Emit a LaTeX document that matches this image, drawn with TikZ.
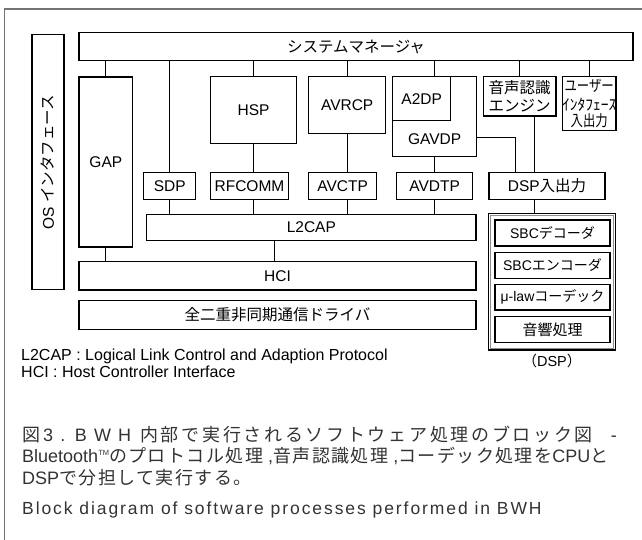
\documentclass[tikz,border=0pt]{standalone}
\usepackage{fontspec}
\setmainfont{Liberation Sans}
\newfontfamily\jp{Noto Sans CJK JP}
\newfontfamily\jpcap[LetterSpace=8]{Noto Sans CJK JP}
\newfontfamily\jpcapa[LetterSpace=15]{Noto Sans CJK JP}
\newfontfamily\capw[LetterSpace=12]{Liberation Sans}
\newfontfamily\capls[LetterSpace=11]{Liberation Sans}
\newcommand\mybox[7][]{\node[box,#1,minimum width={(#5)-(#3)},minimum height={(#6)-(#4)}] (#2) at ({((#3)+(#5))/2},{((#4)+(#6))/2}) {#7};}
\tikzset{
  box/.style={draw, line width=1.1pt, inner sep=0pt, outer sep=0pt, align=center, font=\fontsize{15.5}{19}\selectfont},
  conn/.style={line width=1pt},
  lbl/.style={inner sep=0pt, font=\fontsize{15.5}{19}\selectfont},
  small/.style={font=\fontsize{14}{16}\selectfont},
  captext/.style={anchor=west, inner sep=0pt, text=black!80, font=\fontsize{18}{20}\selectfont},
  legtext/.style={anchor=west, inner sep=0pt, font=\fontsize{16}{18}\selectfont}
}
\begin{document}
\begin{tikzpicture}[x=1pt,y=-1pt]
\useasboundingbox (0,0) rectangle (642,540);
\draw[black!55, line width=1.6pt] (4.5,540) -- (4.5,9) -- (642,9);
% boxes
\mybox{sys}{79}{32.3}{633}{60.7}{\jp システムマネージャ}
\mybox{os}{32}{34.7}{64}{289.3}{}
\node[lbl, rotate=90] (oslbl) at (os.center) {OS {\jp インタフェース}};
\mybox{gap}{79}{77}{132.7}{247}{GAP}
\mybox{sdp}{143.7}{172.7}{195.7}{199.5}{SDP}
\mybox{hsp}{210.7}{76.7}{296.3}{143.7}{HSP}
\mybox{rfcomm}{210.5}{172.7}{288.5}{199.5}{RFCOMM}
\mybox{avrcp}{308.7}{76.7}{385.7}{133.7}{AVRCP}
\mybox{avctp}{308.7}{172.7}{376.5}{199.5}{AVCTP}
\mybox{avbox}{392.7}{76.7}{476.7}{156.7}{}
\mybox{a2dp}{392.7}{76.7}{450.7}{120.7}{A2DP}
\node[lbl] (gavdp) at (434.7,139.5) {GAVDP};
\mybox{avdtp}{396.7}{172.7}{472.7}{199.5}{AVDTP}
\mybox{voice}{483.3}{76.7}{556}{116}{\jp 音声認識\\[-1pt]\jp エンジン}
\mybox{user}{562.3}{76.7}{616}{130.7}{}
\node[lbl] (u1) at (589.2,86) {\scalebox{0.8}[1]{\jp ユーザー}};
\node[lbl] (u2) at (589.2,104.5) {\jp ｲﾝﾀﾌｪｰｽ};
\node[lbl] (u3) at (589.2,121) {\scalebox{0.8}[1]{\jp 入出力}};
\mybox{dspio}{489}{172.7}{605}{199.5}{DSP{\jp 入出力}}
\mybox{l2cap}{146.7}{214.3}{476}{240.7}{L2CAP}
\mybox{hci}{79}{261.7}{476}{290}{HCI}
\mybox{drv}{79}{300.7}{476}{329.3}{\jp 全二重非同期通信ドライバ}
\mybox{dspbox}{488.3}{213.3}{615.7}{350}{}
\draw[black!45, line width=0.6pt] ([shift={(2.2,-2.2)}]dspbox.south west) rectangle ([shift={(-2.2,2.2)}]dspbox.north east);
\mybox[small]{sbcdec}{495}{220}{610}{246}{SBC{\jp デコーダ}}
\mybox[small]{sbcenc}{495}{252.3}{610}{278.3}{SBC{\jp エンコーダ}}
\mybox[small]{mulaw}{495}{284.3}{610}{310}{μ-law{\jp コーデック}}
\mybox[font=\fontsize{15}{17}\selectfont]{acou}{495}{316.7}{610}{342.7}{\jp 音響処理}
% connectors
\coordinate (vx) at (534,116);
\coordinate (gturn) at (515.3,137.3);
\coordinate (lx) at (274,240.7);
\draw[conn] (sys.south -| gap.north) -- (gap.north);
\draw[conn] (sys.south -| sdp.north) -- (sdp.north);
\draw[conn] (sys.south -| hsp.north) -- (hsp.north);
\draw[conn] (sys.south -| avrcp.north) -- (avrcp.north);
\draw[conn] (sys.south -| avbox.north) -- (avbox.north);
\draw[conn] (sys.south -| voice.north) -- (voice.north);
\draw[conn] (sys.south -| user.north) -- (user.north);
\draw[conn] (hsp.south) -- (hsp.south |- rfcomm.north);
\draw[conn] (avrcp.south) -- (avrcp.south |- avctp.north);
\draw[conn] (avbox.south) -- (avbox.south |- avdtp.north);
\draw[conn] (vx) -- (vx |- dspio.north);
\draw[conn] (gturn -| avbox.east) -- (gturn) -- (gturn |- dspio.north);
\draw[conn] (vx |- dspio.south) -- (vx |- dspbox.north);
\draw[conn] (sdp.south) -- (sdp.south |- l2cap.north);
\draw[conn] (hsp.south |- rfcomm.south) -- (hsp.south |- l2cap.north);
\draw[conn] (avrcp.south |- avctp.south) -- (avrcp.south |- l2cap.north);
\draw[conn] (avbox.south |- avdtp.south) -- (avbox.south |- l2cap.north);
\draw[conn] (lx) -- (lx |- hci.north);
\draw[conn] (gap.south) -- (gap.south |- hci.north);
% legend
\node[legtext] (leg1) at (21,356) {L2CAP : Logical Link Control and Adaption Protocol};
\node[legtext] (leg2) at (21,372) {HCI : Host Controller Interface};
\node[inner sep=0pt, font=\fontsize{14.5}{16}\selectfont] (dsplbl) at (552,361) {{\jp （}DSP{\jp ）}};
% caption
\node[captext] (c1) at (22,435) {{\jp 図}\,{\capw 3 . B W H}\hspace{9pt}{\jpcapa 内部で実行されるソフトウェア処理のブロック図}\hspace{18pt}-};
\node[captext] (c2) at (22,456) {Bluetooth\raisebox{7pt}{\fontsize{7.5}{8}\selectfont TM}{\jpcap のプロトコル処理} ,{\jpcap 音声認識処理} ,{\jpcap コーデック処理を}CPU{\jpcap と}};
\node[captext] (c3) at (22,478) {DSP{\jpcap で分担して実行する。}};
\node[captext, font=\fontsize{17.5}{20}\selectfont] (c4) at (22,510) {\capls Block diagram of software processes performed in BWH};
\end{tikzpicture}
\end{document}
